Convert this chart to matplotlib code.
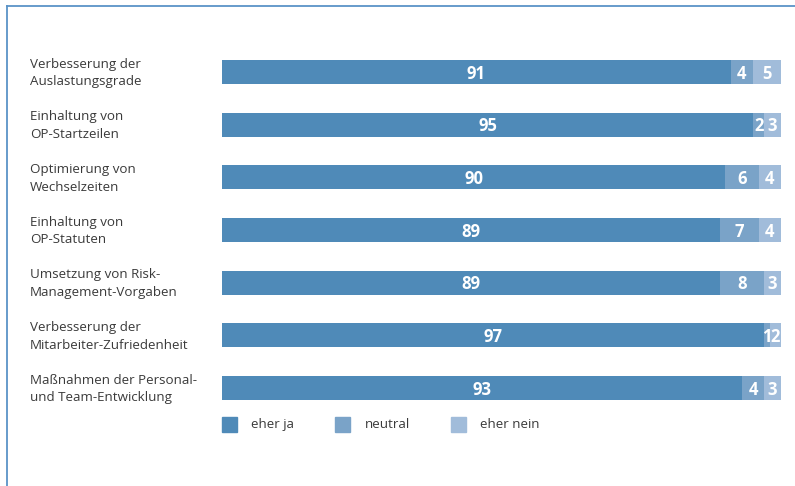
import matplotlib
matplotlib.use("Agg")
import matplotlib.pyplot as plt
import matplotlib.transforms as mtransforms
from matplotlib.patches import Rectangle
from matplotlib.lines import Line2D

categories = [
    "Verbesserung der\nAuslastungsgrade",
    "Einhaltung von\nOP-Startzeilen",
    "Optimierung von\nWechselzeiten",
    "Einhaltung von\nOP-Statuten",
    "Umsetzung von Risk-\nManagement-Vorgaben",
    "Verbesserung der\nMitarbeiter-Zufriedenheit",
    "Maßnahmen der Personal-\nund Team-Entwicklung",
]
eher_ja = [91, 95, 90, 89, 89, 97, 93]
neutral = [4, 2, 6, 7, 8, 1, 4]
eher_nein = [5, 3, 4, 4, 3, 2, 3]
series_names = ["eher ja", "neutral", "eher nein"]
colors = ["#4f8ab8", "#7aa3c8", "#a1bcda"]

plt.rcParams['font.family'] = ['Open Sans', 'DejaVu Sans']
W, H = 795, 486
fig = plt.figure(figsize=(W / 100, H / 100), dpi=100)

def fx(px):
    return px / W

def fy(py):
    return 1 - py / H

row_sp = (388 - 72) / 6
top = 72 - row_sp / 2
bot = 388 + row_sp / 2
ax = fig.add_axes([fx(222), fy(bot), fx(781) - fx(222), fy(top) - fy(bot)])
ax.set_xlim(0, 100)
ax.set_ylim(len(categories) - 0.5, -0.5)
ax.axis("off")

ys = list(range(len(categories)))
left = [0] * len(categories)
for vals, col in zip([eher_ja, neutral, eher_nein], colors):
    ax.barh(ys, vals, left=left, height=0.45, color=col, edgecolor="none")
    for y, v, l in zip(ys, vals, left):
        ax.text(l + v / 2, y + 0.03, str(v), ha="center", va="center",
                color="white", fontsize=12, fontweight="bold")
    left = [a + b for a, b in zip(left, vals)]

blend = mtransforms.blended_transform_factory(fig.transFigure, ax.transData)
for y, cat in zip(ys, categories):
    ax.text(fx(30), y + 0.02, cat, transform=blend,
            ha="left", va="center", fontsize=9.6, color="#3a3a3a", linespacing=1.45)

# legend
leg_y = 424
for name, col, sx, tx in zip(series_names, colors, [222, 335, 451], [251, 365, 480]):
    fig.patches.append(Rectangle((fx(sx), fy(leg_y + 7.5)), fx(15), 15 / H,
                                 transform=fig.transFigure, color=col))
    fig.text(fx(tx), fy(leg_y), name, ha="left", va="center", fontsize=9.6, color="#3a3a3a")

# frame lines (top and left)
border = "#5b93c7"
fig.add_artist(Line2D([fx(6.5), fx(6.5)], [0, fy(6.5)], color=border, lw=1.3, transform=fig.transFigure))
fig.add_artist(Line2D([fx(6.5), 1], [fy(6.5), fy(6.5)], color=border, lw=1.3, transform=fig.transFigure))

fig.savefig("out.png", dpi=100, facecolor="white")
